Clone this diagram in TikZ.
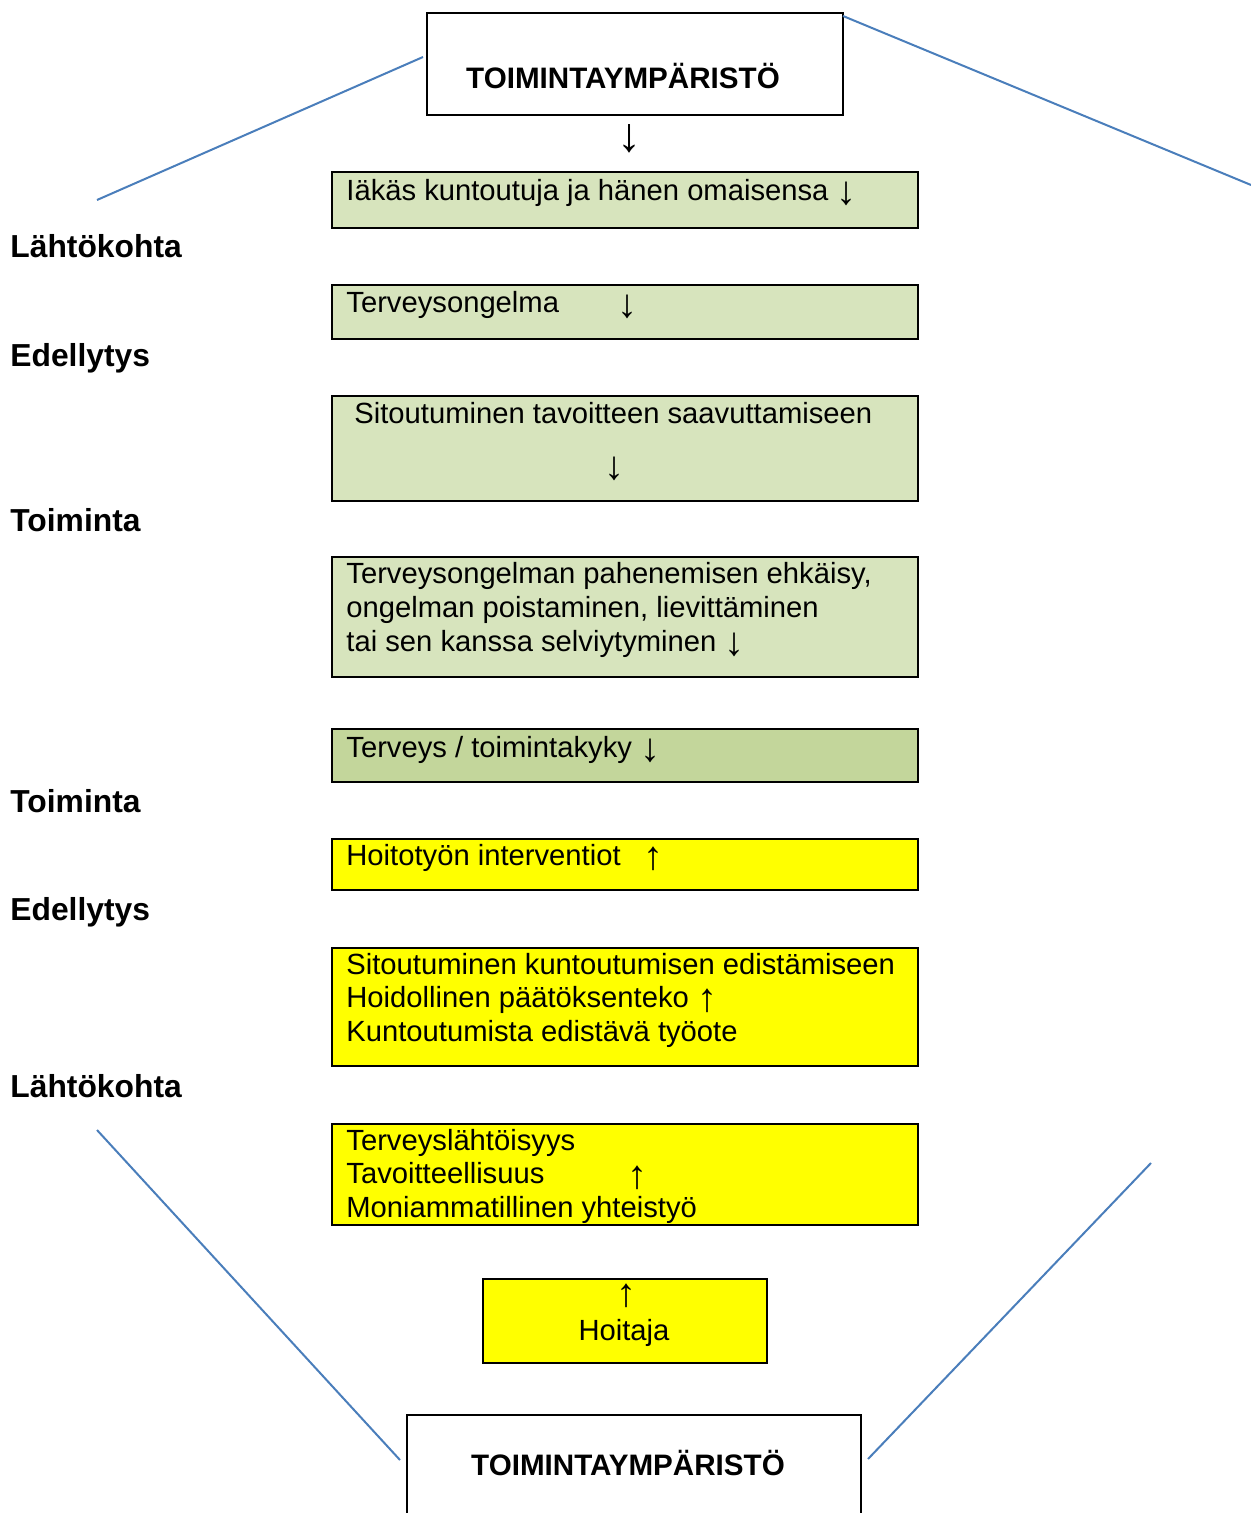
\documentclass[tikz,border=0pt]{standalone}
\usepackage{fontspec}
\setmainfont{Liberation Sans}
\newfontfamily\arrowfont{Liberation Serif}
\definecolor{boxgreen}{HTML}{D7E4BD}
\definecolor{boxgreendark}{HTML}{C3D69B}
\definecolor{boxyellow}{HTML}{FFFF00}
\definecolor{lineblue}{HTML}{4A7EBB}
\tikzset{
  framebox/.style={draw=black, line width=1pt, inner sep=0pt, anchor=north west, minimum width=293pt},
  greenbox/.style={framebox, fill=boxgreen},
  darkbox/.style={framebox, fill=boxgreendark},
  yellowbox/.style={framebox, fill=boxyellow},
  envbox/.style={draw=black, line width=1pt, inner sep=0pt, anchor=north west, fill=white},
  boxtext/.style={anchor=base west, inner sep=0pt, font=\fontsize{14.6pt}{17pt}\selectfont},
  arrowtext/.style={anchor=base, inner sep=0pt, font=\fontsize{20pt}{20pt}\selectfont\arrowfont},
  sidelabel/.style={anchor=base west, inner sep=0pt, font=\fontsize{15.9pt}{19pt}\selectfont\bfseries},
  envtext/.style={anchor=base, inner sep=0pt, font=\fontsize{14.8pt}{17pt}\selectfont\bfseries},
  frameline/.style={draw=lineblue, line width=1pt}
}
\newcommand{\dnarr}{\raisebox{-2pt}{\arrowfont\fontsize{20pt}{20pt}\selectfont ↓}}
\newcommand{\uparr}{\raisebox{-2pt}{\arrowfont\fontsize{20pt}{20pt}\selectfont ↑}}
\begin{document}
\begin{tikzpicture}[x=0.5pt,y=-0.5pt]
\useasboundingbox (0,0) rectangle (1251,1513);

% top environment box
\node[envbox, minimum width=208pt, minimum height=51pt] (top) at (426,12) {};
\node[envtext] (toptext) at (623,89) {TOIMINTAYMPÄRISTÖ};
\node[arrowtext, font=\fontsize{24pt}{24pt}\selectfont\arrowfont] (toparrow) at (629,152) {↓};

% green boxes
\node[greenbox, minimum height=28pt] (b1) at (331,171) {};
\node[boxtext] (b1t) at (346,201) {Iäkäs kuntoutuja ja hänen omaisensa \dnarr};

\node[greenbox, minimum height=27pt] (b2) at (331,284) {};
\node[boxtext] (b2t) at (346,313) {Terveysongelma};
\node[arrowtext] (b2a) at (627,318) {↓};

\node[greenbox, minimum height=52.5pt] (b3) at (331,395) {};
\node[boxtext] (b3t) at (354,423) {Sitoutuminen tavoitteen saavuttamiseen};
\node[arrowtext] (b3a) at (614,480) {↓};

\node[greenbox, minimum height=60pt] (b4) at (331,556) {};
\node[boxtext] (b4t1) at (346,583) {Terveysongelman pahenemisen ehkäisy,};
\node[boxtext] (b4t2) at (346,617) {ongelman poistaminen, lievittäminen};
\node[boxtext] (b4t3) at (346,651) {tai sen kanssa selviytyminen \dnarr};

\node[darkbox, minimum height=26.5pt] (b5) at (331,728) {};
\node[boxtext] (b5t) at (346,757) {Terveys / toimintakyky \dnarr};

% yellow boxes
\node[yellowbox, minimum height=25.5pt] (y1) at (331,838) {};
\node[boxtext] (y1t) at (346,865) {Hoitotyön interventiot};
\node[arrowtext] (y1a) at (653,869) {↑};

\node[yellowbox, minimum height=59pt] (y2) at (331,947) {};
\node[boxtext] (y2t1) at (346,974) {Sitoutuminen kuntoutumisen edistämiseen};
\node[boxtext] (y2t2) at (346,1007) {Hoidollinen päätöksenteko \uparr};
\node[boxtext] (y2t3) at (346,1041) {Kuntoutumista edistävä työote};

\node[yellowbox, minimum height=50.5pt] (y3) at (331,1123) {};
\node[boxtext] (y3t1) at (346,1150) {Terveyslähtöisyys};
\node[boxtext] (y3t2) at (346,1183) {Tavoitteellisuus};
\node[arrowtext] (y3a) at (637,1188) {↑};
\node[boxtext] (y3t3) at (346,1217) {Moniammatillinen yhteistyö};

\node[yellowbox, minimum width=142pt, minimum height=42pt] (hoi) at (482,1278) {};
\node[arrowtext] (hoia) at (626,1306) {↑};
\node[boxtext, anchor=base] (hoit) at (624,1340) {Hoitaja};

% bottom environment box (open at the bottom edge)
\node[inner sep=0pt, anchor=north west, minimum width=226.5pt, minimum height=49pt] (bot) at (407,1415) {};
\draw[line width=1pt] (bot.south west) -- (bot.north west) -- (bot.north east) -- (bot.south east);
\node[envtext] (bottext) at (628,1475) {TOIMINTAYMPÄRISTÖ};

% side labels
\node[sidelabel] (l1) at (10,258) {Lähtökohta};
\node[sidelabel] (l2) at (10,367) {Edellytys};
\node[sidelabel] (l3) at (10,531) {Toiminta};
\node[sidelabel] (l4) at (10,812) {Toiminta};
\node[sidelabel] (l5) at (10,920) {Edellytys};
\node[sidelabel] (l6) at (10,1097) {Lähtökohta};

% blue frame lines
\coordinate (tl1) at (423,57);
\coordinate (tl2) at (97,200);
\coordinate (tr1) at (843,16);
\coordinate (tr2) at (1251,185);
\coordinate (bl1) at (97,1130);
\coordinate (bl2) at (400,1460);
\coordinate (br1) at (1151,1163);
\coordinate (br2) at (868,1459);
\draw[frameline] (tl1) -- (tl2);
\draw[frameline] (tr1) -- (tr2);
\draw[frameline] (bl1) -- (bl2);
\draw[frameline] (br1) -- (br2);
\end{tikzpicture}
\end{document}
